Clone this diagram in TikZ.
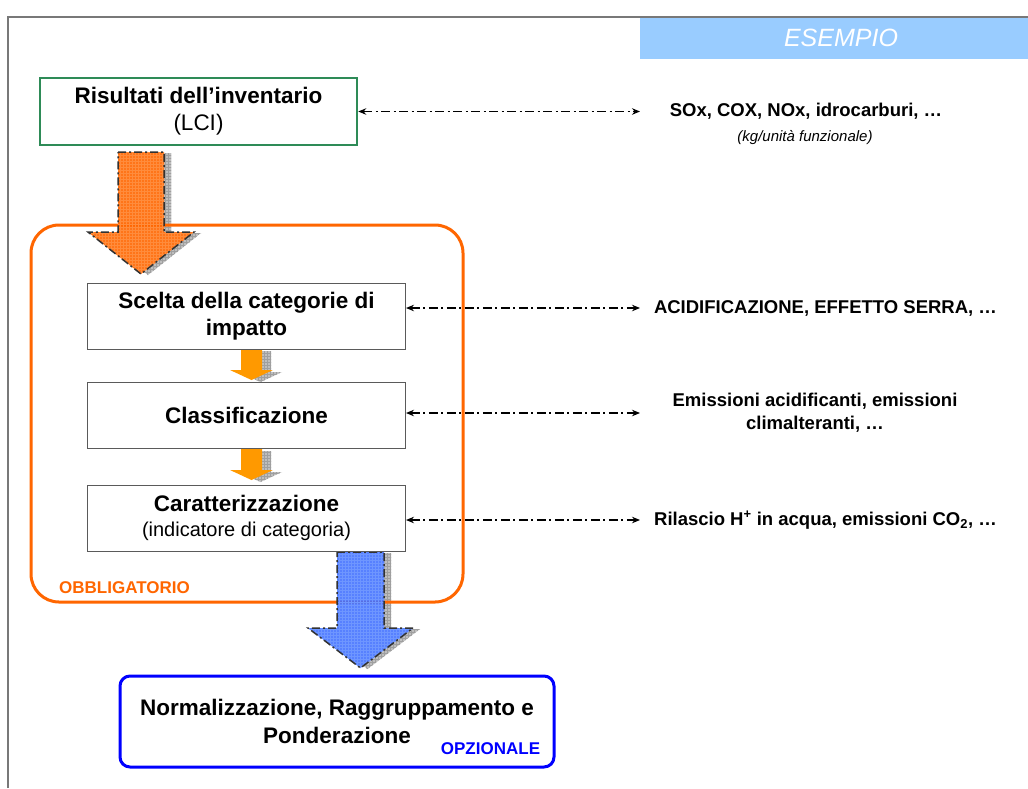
\documentclass[tikz,border=0pt]{standalone}
\usepackage{fontspec}
\setmainfont{Liberation Sans}
\usetikzlibrary{arrows.meta,patterns}
\definecolor{framegray}{RGB}{120,120,120}
\definecolor{lcigreen}{RGB}{46,139,87}
\definecolor{obbl}{RGB}{255,102,0}
\definecolor{obbltex}{RGB}{255,140,60}
\definecolor{smallor}{RGB}{255,153,0}
\definecolor{arrblue}{RGB}{64,112,255}
\definecolor{arrbluetex}{RGB}{110,150,255}
\definecolor{esempio}{RGB}{153,204,255}
\definecolor{boxline}{RGB}{90,90,90}
\definecolor{shadowgray}{RGB}{190,190,190}
\definecolor{outlinegray}{RGB}{50,50,50}

% shadow of a block arrow: cx, top, headtop, tip, shaft half width, head half width, offset
\newcommand{\arrowshadow}[7]{%
  \begin{scope}[shift={#7}]
    \fill[shadowgray] ({#1-#5},#2) -- ({#1+#5},#2) -- ({#1+#5},#3) -- ({#1+#6},#3) -- (#1,#4) -- ({#1-#6},#3) -- ({#1-#5},#3) -- cycle;
    \fill[pattern=grid, pattern color=gray!75] ({#1-#5},#2) -- ({#1+#5},#2) -- ({#1+#5},#3) -- ({#1+#6},#3) -- (#1,#4) -- ({#1-#6},#3) -- ({#1-#5},#3) -- cycle;
  \end{scope}}
% body of a block arrow: cx, top, headtop, tip, shaft half width, head half width, style
\newcommand{\arrowbody}[7]{%
  \path[#7] ({#1-#5},#2) -- ({#1+#5},#2) -- ({#1+#5},#3) -- ({#1+#6},#3) -- (#1,#4) -- ({#1-#6},#3) -- ({#1-#5},#3) -- cycle;}

\begin{document}
\begin{tikzpicture}[x=1pt,y=-1pt,
  stepbox/.style={draw=boxline, line width=1pt, fill=white, minimum width=318pt,
    minimum height=66pt, align=center, inner sep=2pt,
    font=\fontsize{22.5}{27}\selectfont\bfseries},
  conn/.style={line width=1.2pt, dash pattern=on 9pt off 3.5pt on 2pt off 3.5pt,
    {Stealth[length=8pt,width=6.5pt]}-{Stealth[length=8pt,width=6.5pt]}},
  rtext/.style={font=\fontsize{18.5}{23}\selectfont\bfseries, align=center, inner sep=0pt},
  arrline/.style={draw=outlinegray, line width=1.5pt, dash pattern=on 8pt off 3pt on 2pt off 3pt},
  tag/.style={font=\fontsize{17}{20}\selectfont\bfseries, inner sep=0pt}
]
\useasboundingbox (0,0) rectangle (1028,788);
\fill[white] (0,0) rectangle (1028,788);

% frame
\draw[framegray, line width=1.2pt] (8,788) -- (8,17) -- (1028,17);

% ESEMPIO banner
\node[fill=esempio, minimum width=388pt, minimum height=41pt, inner sep=0pt,
  text=white, font=\fontsize{25}{30}\selectfont\itshape] (es) at (834,38) {\hspace*{14pt}ESEMPIO};

% inventory box
\node[draw=lcigreen, line width=2.5pt, fill=white, minimum width=317pt, minimum height=67pt,
  align=center, inner sep=2pt, font=\fontsize{22.5}{27}\selectfont] (lci) at (198.5,111.5)
  {\bfseries Risultati dell’inventario\\\mdseries (LCI)};

% arrow shadows
\arrowshadow{141}{152}{232}{274}{23}{53}{(7,1)}
\arrowshadow{360.5}{552}{628}{668}{23.5}{52.5}{(7,1)}
\arrowshadow{251.5}{349}{370}{380}{10.5}{21.5}{(9,2)}
\arrowshadow{251.5}{449}{470}{480}{10.5}{21.5}{(9,2)}

% white underlay of the big arrows
\arrowbody{141}{152}{232}{274}{23}{53}{fill=white}
\arrowbody{360.5}{552}{628}{668}{23.5}{52.5}{fill=white}

% mandatory frame
\node[draw=obbl, line width=3pt, rounded corners=28pt, minimum width=432pt,
  minimum height=377pt, inner sep=0pt] (obb) at (247,413.5) {};
\node[tag, text=obbl] (obl) at (124.5,588) {OBBLIGATORIO};

% big arrows
\arrowbody{141}{152}{232}{274}{23}{53}{fill=obbl, fill opacity=0.9}
\arrowbody{141}{152}{232}{274}{23}{53}{pattern=grid, pattern color=obbltex}
\arrowbody{141}{152}{232}{274}{23}{53}{arrline}
\arrowbody{360.5}{552}{628}{668}{23.5}{52.5}{fill=arrblue, fill opacity=0.88}
\arrowbody{360.5}{552}{628}{668}{23.5}{52.5}{pattern=grid, pattern color=arrbluetex}
\arrowbody{360.5}{552}{628}{668}{23.5}{52.5}{arrline}

% small arrows
\arrowbody{251.5}{349}{370}{380}{10.5}{21.5}{fill=smallor}
\arrowbody{251.5}{449}{470}{480}{10.5}{21.5}{fill=smallor}

% step boxes
\node[stepbox] (scelta) at (246.5,316) {Scelta della categorie di\\impatto};
\node[stepbox] (classif) at (246.5,415.5) {Classificazione};
\node[stepbox, font=\fontsize{22.5}{25}\selectfont\bfseries] (caratt) at (246.5,518)
  {Caratterizzazione\\\mdseries\fontsize{20}{24}\selectfont(indicatore di categoria)};

% optional box
\node[draw=blue, line width=3pt, rounded corners=10pt, fill=white, minimum width=434pt,
  minimum height=91pt, align=center, inner sep=2pt,
  font=\fontsize{22.5}{28}\selectfont\bfseries] (norm) at (337,721.5)
  {Normalizzazione, Raggruppamento e\\Ponderazione};
\node[tag, text=blue] (opz) at (490.5,749) {OPZIONALE};

% example texts
\node[rtext] (t1) at (806,111) {SOx, COX, NOx, idrocarburi, …};
\node[font=\fontsize{15}{18}\selectfont\itshape, inner sep=0pt] (t1b) at (805,138) {(kg/unità funzionale)};
\node[rtext] (t2) at (825.5,308) {ACIDIFICAZIONE, EFFETTO SERRA, …};
\node[rtext] (t3) at (815,413) {Emissioni acidificanti, emissioni\\climalteranti, …};
\node[rtext] (t4) at (825.5,520) {Rilascio H\textsuperscript{+} in acqua, emissioni CO\textsubscript{2}, …};

% connector ends
\coordinate (c1) at (640,111.5);
\coordinate (c2) at (640,308);
\coordinate (c3) at (640,413);
\coordinate (c4) at (640,520);

\draw[conn] (lci.east) -- (c1);
\draw[conn] (scelta.east |- c2) -- (c2);
\draw[conn] (classif.east |- c3) -- (c3);
\draw[conn] (caratt.east |- c4) -- (c4);
\end{tikzpicture}
\end{document}
